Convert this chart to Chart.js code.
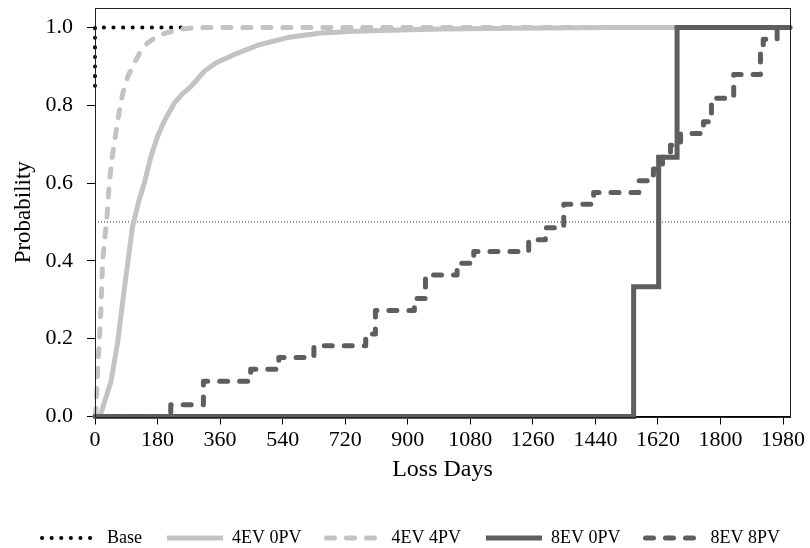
<!DOCTYPE html>
<html>
<head>
<meta charset="utf-8">
<script src="https://cdn.jsdelivr.net/npm/chart.js@4.4.0/dist/chart.umd.min.js"></script>
<style>
  html, body { margin: 0; padding: 0; background: #ffffff; }
  #wrap { width: 810px; height: 548px; }
</style>
</head>
<body>
<div id="wrap"><canvas id="chart" width="810" height="548"></canvas></div>
<script>
// Axis ticks
const xTicks = [0, 180, 360, 540, 720, 900, 1080, 1260, 1440, 1620, 1800, 1980];
const yTicks = [0, 0.2, 0.4, 0.6, 0.8, 1.0];
const threshold = 0.5;

// Cumulative probability of loss duration, per scenario
const baseDays = [0, 0, 250];
const baseProb = [0.85, 1.0, 1.0];

const ev4pv0Days = [0, 12, 18, 30, 46, 65, 84, 108, 125, 142, 160, 180, 200, 228, 250, 276, 315, 350, 400, 470, 560, 650, 750, 850, 1000, 1200, 1500, 2000];
const ev4pv0Prob = [0, 0, 0.01, 0.045, 0.09, 0.19, 0.325, 0.488, 0.55, 0.60, 0.665, 0.72, 0.76, 0.805, 0.828, 0.848, 0.888, 0.91, 0.93, 0.955, 0.975, 0.986, 0.99, 0.993, 0.996, 0.998, 1.0, 1.0];

const ev4pv4Days = [0, 3, 8, 13, 17, 22, 28, 34, 41, 50, 60, 70, 80, 95, 113, 130, 151, 180, 209, 237, 270, 300, 2000];
const ev4pv4Prob = [0, 0.02, 0.128, 0.2, 0.274, 0.40, 0.455, 0.505, 0.60, 0.67, 0.728, 0.785, 0.831, 0.875, 0.908, 0.937, 0.96, 0.978, 0.987, 0.994, 0.998, 1.0, 1.0];

const ev8pv0Days = [0, 1550, 1622, 1675, 2000];
const ev8pv0Prob = [0, 1 / 3, 2 / 3, 1.0, 1.0];

const ev8pv8Days = [0, 218, 312, 448, 529, 630, 779, 807, 919, 951, 1042, 1090, 1248, 1296, 1349, 1435, 1565, 1607, 1633, 1656, 1685, 1751, 1774, 1838, 1915, 1923, 1963, 2000];
const ev8pv8Prob = [0, 1 / 33, 3 / 33, 4 / 33, 5 / 33, 6 / 33, 7 / 33, 9 / 33, 10 / 33, 12 / 33, 13 / 33, 14 / 33, 15 / 33, 16 / 33, 18 / 33, 19 / 33, 20 / 33, 21 / 33, 22 / 33, 23 / 33, 24 / 33, 25 / 33, 27 / 33, 29 / 33, 31 / 33, 32 / 33, 1.0, 1.0];

const pairs = (xs, ys) => xs.map((x, i) => ({ x: x, y: ys[i] }));

const LIGHT = '#c3c3c3';
const DARK = '#5e5e5e';

Chart.defaults.font.family = '"Liberation Serif", "DejaVu Serif", serif';
Chart.defaults.color = '#000';

// Full box around the plotting area
const frame = {
  id: 'frame',
  afterDatasetsDraw(chart) {
    const { ctx, chartArea: a } = chart;
    ctx.save();
    ctx.strokeStyle = '#222';
    ctx.lineWidth = 1;
    ctx.strokeRect(Math.round(a.left) + 0.5, Math.round(a.top) + 0.5,
      Math.round(a.right - a.left), Math.round(a.bottom - a.top));
    ctx.restore();
  }
};

// Legend keys drawn as line samples carrying each dataset's own stroke style
const lineKeys = chart => {
  const items = Chart.defaults.plugins.legend.labels.generateLabels(chart);
  items.forEach(item => {
    const ds = chart.data.datasets[item.datasetIndex];
    item.lineDash = ds.borderDash || [];
    item.lineCap = ds.borderCapStyle || 'butt';
    item.lineWidth = ds.borderWidth;
    item.strokeStyle = ds.borderColor;
    item.fillStyle = ds.borderColor;
    item.pointStyle = 'line';
  });
  return items;
};

const common = { pointRadius: 0, pointHoverRadius: 0, tension: 0, fill: false, clip: false, pointStyle: 'line' };

new Chart(document.getElementById('chart'), {
  type: 'line',
  plugins: [frame],
  data: {
    datasets: [
      Object.assign({}, common, {
        label: 'Base', data: pairs(baseDays, baseProb), order: 5,
        borderColor: '#000', borderWidth: 4, borderDash: [0.1, 9.5], borderCapStyle: 'round'
      }),
      Object.assign({}, common, {
        label: '4EV 0PV', data: pairs(ev4pv0Days, ev4pv0Prob), order: 4,
        borderColor: LIGHT, borderWidth: 5, borderJoinStyle: 'round'
      }),
      Object.assign({}, common, {
        label: '4EV 4PV', data: pairs(ev4pv4Days, ev4pv4Prob), order: 3,
        borderColor: LIGHT, borderWidth: 5, borderDash: [8, 12], borderCapStyle: 'round', borderJoinStyle: 'round'
      }),
      Object.assign({}, common, {
        label: '8EV 0PV', data: pairs(ev8pv0Days, ev8pv0Prob), order: 2, stepped: 'before',
        borderColor: DARK, borderWidth: 5, borderJoinStyle: 'miter'
      }),
      Object.assign({}, common, {
        label: '8EV 8PV', data: pairs(ev8pv8Days, ev8pv8Prob), order: 1, stepped: 'before',
        borderColor: DARK, borderWidth: 5, borderDash: [8, 12], borderCapStyle: 'round', borderJoinStyle: 'round'
      }),
      Object.assign({}, common, {
        label: 'median', data: [{ x: 0, y: threshold }, { x: 2000, y: threshold }], order: 10,
        borderColor: '#333', borderWidth: 1, borderDash: [1, 2]
      })
    ]
  },
  options: {
    responsive: false,
    animation: false,
    devicePixelRatio: 1,
    layout: { padding: { top: 8, left: 12, right: 0, bottom: -9 } },
    plugins: {
      tooltip: { enabled: false },
      legend: {
        position: 'bottom',
        reverse: true,
        labels: {
          usePointStyle: true,
          pointStyleWidth: 56,
          padding: 25,
          color: '#000',
          font: { size: 18 },
          generateLabels: lineKeys,
          filter: item => item.text !== 'median'
        }
      }
    },
    scales: {
      x: {
        type: 'linear',
        min: 0,
        max: 2000,
        afterBuildTicks: ax => { ax.ticks = xTicks.map(v => ({ value: v })); },
        afterFit: ax => { ax.height = 87.5; ax.paddingRight = 20; ax.paddingLeft = 0; },
        ticks: { font: { size: 22 }, color: '#000', padding: 3, maxRotation: 0, autoSkip: false, callback: v => String(v) },
        grid: { display: true, drawOnChartArea: false, drawTicks: true, tickLength: 8, color: '#000', lineWidth: 1 },
        border: { display: true, color: '#000', width: 1 },
        title: { display: true, text: 'Loss Days', color: '#000', font: { size: 24, lineHeight: 1 }, padding: { top: 0, bottom: 22 } }
      },
      y: {
        type: 'linear',
        min: 0,
        max: 1.05,
        afterBuildTicks: ax => { ax.ticks = yTicks.map(v => ({ value: v })); },
        afterFit: ax => { ax.width = 83; ax.paddingTop = 0; ax.paddingBottom = 0; },
        ticks: { font: { size: 22 }, color: '#000', padding: 14, callback: v => Number(v).toFixed(1) },
        grid: { display: true, drawOnChartArea: false, drawTicks: true, tickLength: 8, color: '#000', lineWidth: 1 },
        border: { display: true, color: '#000', width: 1 },
        title: { display: true, text: 'Probability', color: '#000', font: { size: 23, lineHeight: 1 }, padding: { top: 0, bottom: 0 } }
      }
    }
  }
});
</script>
</body>
</html>
